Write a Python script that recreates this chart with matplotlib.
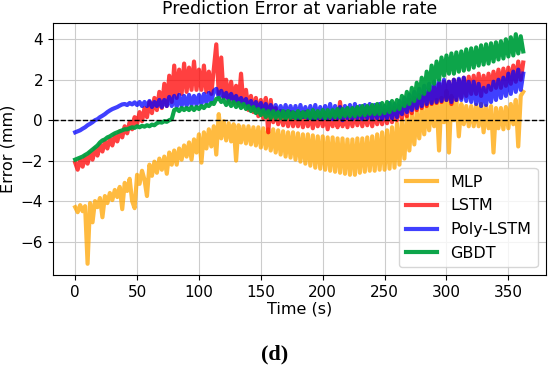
import numpy as np
import matplotlib
matplotlib.use('Agg')
from matplotlib import pyplot as plt

# time axis, one sample every 2 s (0 .. 362 s)
time_s = np.arange(0, 363, 2)

# error values (mm), 10 samples per row = 20 s
mlp = [-4.3, -4.55, -4.2, -4.5, -4.25, -7.1, -4.1, -5.05, -4.0, -4.3,
       -3.85, -4.8, -3.75, -4.1, -3.6, -3.95, -3.45, -3.8, -3.3, -4.4,
       -3.1, -3.5, -2.9, -4.0, -4.35, -2.7, -3.15, -2.5, -2.95, -3.75,
       -2.2, -2.75, -2.05, -2.6, -1.9, -2.45, -1.8, -2.65, -1.6, -2.2,
       -1.5, -2.2, -1.4, -1.95, -1.25, -1.8, -1.1, -1.95, -0.95, -1.6,
       -0.7, -2.1, -0.6, -1.4, -0.45, -1.3, -0.3, -1.7, 0.3, -0.9,
       -0.05, -1.0, -0.15, -1.05, -0.2, -2.0, -0.25, -1.1, -0.3, -1.15,
       -0.3, -1.2, -0.35, -1.25, -0.35, -1.35, -0.4, -1.4, -0.45, -1.5,
       -0.45, -1.6, -0.5, -1.7, -0.55, -1.8, -0.6, -1.85, -0.6, -1.95,
       -0.65, -2.05, -0.7, -2.15, -0.7, -2.25, -0.75, -2.35, -0.8, -2.4,
       -0.8, -2.45, -0.85, -2.5, -0.85, -2.55, -0.9, -2.6, -0.9, -2.65,
       -0.95, -2.7, -0.95, -2.7, -0.9, -2.6, -0.9, -2.55, -0.85, -2.5,
       -0.8, -2.5, -0.7, -2.45, -0.6, -2.45, -0.5, -2.4, -0.35, -2.35,
       -0.15, -2.2, 0.0, -1.9, 0.15, -1.5, 0.3, -1.2, 0.45, -0.9,
       0.6, -0.7, 0.75, -0.5, 0.9, -0.3, 1.0, -1.5, 1.1, -0.1,
       1.45, -1.6, 1.2, 0.0, 1.0, -0.8, 0.8, -0.2, 0.7, -0.3,
       0.7, -0.3, 0.75, -0.3, 0.8, -0.6, 0.7, -0.4, 0.7, -1.6,
       0.6, -0.4, 0.6, -0.45, 0.65, -0.4, 0.8, -0.2, 1.0, -1.3,
       1.2, 1.4]

lstm = [-2.1, -2.45, -1.95, -2.3, -1.8, -2.15, -1.6, -1.95, -1.4, -1.75,
        -1.2, -1.55, -1.05, -1.4, -0.9, -1.25, -0.75, -1.05, -0.55, -0.85,
        -0.3, -0.65, -0.1, -0.45, 0.15, -0.2, 0.4, -0.05, 0.6, 0.15,
        0.9, 0.35, 1.1, 0.5, 1.4, 0.6, 1.8, 0.7, 2.2, 0.9,
        2.7, 1.1, 2.5, 1.3, 2.8, 1.4, 2.6, 1.5, 2.9, 1.5,
        2.5, 1.5, 2.7, 1.4, 2.4, 1.3, 2.5, 3.75, 1.3, 3.1,
        1.1, 2.0, 0.9, 1.9, 0.85, 1.7, 0.75, 2.3, 0.7, 1.5,
        0.5, 1.2, 0.4, 1.1, 0.2, 1.0, 0.1, 1.1, -0.6, 1.0,
        -0.1, 0.6, -0.2, 0.45, -0.25, 0.4, -0.3, 0.4, -0.3, 0.35,
        -0.3, 0.35, -0.35, 0.4, -0.3, 0.3, -0.4, 0.35, -0.3, 0.3,
        -0.3, 0.35, -0.45, 0.3, -0.3, 0.4, -0.35, 0.9, -0.3, 0.35,
        -0.35, 0.3, -0.3, 0.4, -0.25, 0.35, -0.3, 0.4, -0.25, 0.45,
        -0.3, 0.4, -0.2, 0.45, -0.2, 0.5, -0.15, 0.55, -0.1, 0.6,
        0.0, 0.7, 0.1, 0.85, 0.2, 1.0, 0.35, 1.1, 0.5, 1.25,
        0.6, 1.4, 0.7, 1.5, 0.8, 1.65, 0.85, 1.8, 0.9, 1.9,
        1.0, 1.9, 0.8, 2.0, 1.0, 2.0, 1.1, 2.1, 1.2, 2.15,
        1.3, 2.2, 1.3, 2.3, 1.2, 2.2, 1.4, 2.3, 1.5, 2.4,
        1.6, 2.5, 1.6, 2.55, 1.7, 2.6, 1.8, 2.7, 1.9, 2.9,
        2.0, 2.85]

poly_lstm = [-0.6, -0.55, -0.5, -0.42, -0.35, -0.25, -0.18, -0.1, 0.0, 0.05,
             0.15, 0.22, 0.3, 0.4, 0.48, 0.55, 0.6, 0.65, 0.72, 0.78,
             0.8, 0.75, 0.85, 0.78, 0.88, 0.75, 0.9, 0.7, 0.9, 0.7,
             0.95, 0.65, 0.9, 0.7, 1.0, 0.65, 1.0, 0.7, 1.15, 0.7,
             1.2, 0.65, 1.25, 0.7, 1.2, 0.7, 1.25, 0.75, 1.2, 0.75,
             1.25, 0.8, 1.3, 0.85, 1.35, 0.9, 1.45, 1.55, 1.15, 1.45,
             1.1, 1.35, 1.0, 1.3, 0.95, 1.2, 0.85, 1.1, 0.8, 1.05,
             0.65, 0.95, 0.6, 0.9, 0.5, 0.85, 0.4, 0.8, 0.35, 0.75,
             0.3, 0.75, 0.25, 0.7, 0.2, 0.75, 0.2, 0.7, 0.15, 0.7,
             0.1, 0.75, 0.15, 0.65, 0.1, 0.7, 0.05, 0.75, 0.1, 0.65,
             0.05, 0.7, 0.1, 0.8, 0.05, 0.7, 0.1, 0.65, 0.0, 0.7,
             0.1, 0.75, 0.05, 0.8, 0.1, 0.7, 0.05, 0.75, 0.1, 0.8,
             0.05, 0.75, 0.1, 0.8, 0.05, 0.7, 0.1, 0.85, 0.1, 0.8,
             0.15, 0.95, 0.3, 1.1, 0.4, 1.25, 0.5, 1.4, 0.6, 1.55,
             0.7, 1.7, 0.8, 1.8, 0.85, 1.9, 0.9, 1.95, 0.95, 2.0,
             1.0, 1.9, 0.9, 2.0, 1.0, 2.05, 1.0, 2.1, 0.95, 1.9,
             0.9, 1.9, 0.8, 1.8, 0.7, 1.6, 0.75, 1.7, 0.9, 1.9,
             1.0, 2.0, 1.1, 2.1, 1.2, 2.3, 1.3, 2.4, 1.4, 2.5,
             1.5, 2.3]

gbdt = [-1.95, -1.9, -1.85, -1.8, -1.72, -1.65, -1.55, -1.45, -1.35, -1.25,
        -1.1, -1.0, -0.95, -0.85, -0.8, -0.72, -0.65, -0.6, -0.55, -0.5,
        -0.45, -0.45, -0.4, -0.35, -0.38, -0.3, -0.35, -0.28, -0.32, -0.25,
        -0.3, -0.22, -0.25, -0.15, -0.1, -0.12, -0.05, -0.08, 0.0, 0.05,
        0.5, 0.55, 0.45, 0.6, 0.5, 0.6, 0.5, 0.65, 0.5, 0.65,
        0.55, 0.7, 0.6, 0.75, 0.7, 0.85, 0.8, 1.05, 1.1, 0.9,
        1.0, 0.75, 0.95, 0.7, 0.9, 0.65, 0.85, 0.6, 0.8, 0.55,
        0.7, 0.45, 0.65, 0.35, 0.55, 0.25, 0.5, 0.15, 0.45, 0.1,
        0.45, 0.1, 0.4, 0.1, 0.45, 0.05, 0.45, 0.1, 0.4, 0.1,
        0.45, 0.1, 0.4, 0.15, 0.45, 0.1, 0.5, 0.1, 0.45, 0.15,
        0.5, 0.1, 0.5, 0.15, 0.5, 0.15, 0.55, 0.15, 0.55, 0.2,
        0.6, 0.2, 0.6, 0.2, 0.65, 0.25, 0.7, 0.25, 0.7, 0.3,
        0.75, 0.3, 0.8, 0.3, 0.85, 0.35, 0.9, 0.4, 0.95, 0.5,
        1.0, 0.55, 1.2, 0.7, 1.4, 0.8, 1.6, 0.95, 1.85, 1.1,
        2.1, 1.3, 2.4, 1.5, 2.7, 1.8, 2.9, 2.0, 3.1, 2.2,
        3.2, 2.3, 3.3, 2.3, 3.35, 2.4, 3.4, 2.45, 3.5, 2.5,
        3.55, 2.6, 3.6, 2.7, 3.7, 2.75, 3.75, 2.8, 3.8, 2.9,
        3.85, 3.0, 3.9, 3.05, 4.0, 3.15, 4.1, 3.2, 4.25, 3.3,
        4.15, 3.4]

labels = ['MLP', 'LSTM', 'Poly-LSTM', 'GBDT']
colors = ['orange', 'red', 'blue', '#00a040']
alphas = [0.75, 0.75, 0.75, 0.95]

fig = plt.figure(figsize=(5.5, 3.67), dpi=100)
ax = fig.add_axes([0.096, 0.25, 0.896, 0.688])

for vals, lab, c, a in zip([mlp, lstm, poly_lstm, gbdt], labels, colors, alphas):
    ax.plot(time_s, vals, color=c, alpha=a, lw=3, label=lab)

ax.axhline(0, color='black', ls='--', lw=1)
ax.grid(True, color='#cccccc', lw=0.8)
ax.set_axisbelow(True)
ax.set_title('Prediction Error at variable rate', fontsize=12.5)
ax.set_xlabel('Time (s)', fontsize=11.5, labelpad=1)
ax.set_ylabel('Error (mm)', fontsize=11.5)
ax.tick_params(labelsize=11)
ax.legend(loc='lower right', fontsize=11.5, labelspacing=0.55)

fig.text(0.5, 0.02, '(d)', ha='center', fontsize=16, fontweight='bold',
         family='Liberation Serif')

fig.savefig('out.png', dpi=100)
